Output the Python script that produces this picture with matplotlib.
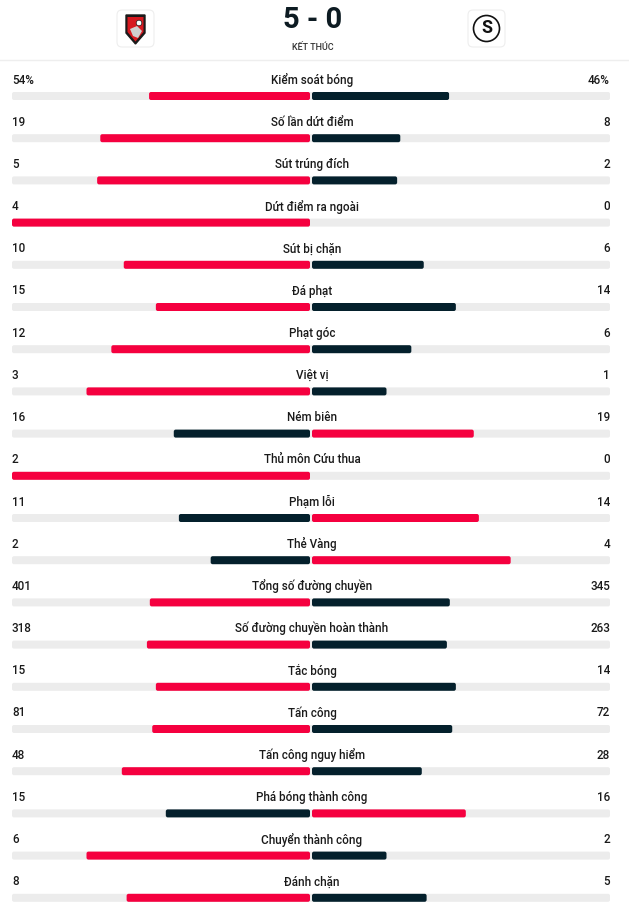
import matplotlib
matplotlib.use('Agg')
import matplotlib.pyplot as plt
from matplotlib.patches import FancyBboxPatch, Polygon, Circle

plt.rcParams['font.family'] = ['Roboto', 'DejaVu Sans']

# Match stats (home = Bournemouth, away = Swansea).
labels = ['Kiểm soát bóng', 'Số lần dứt điểm', 'Sút trúng đích', 'Dứt điểm ra ngoài',
          'Sút bị chặn', 'Đá phạt', 'Phạt góc', 'Việt vị', 'Ném biên',
          'Thủ môn Cứu thua', 'Phạm lỗi', 'Thẻ Vàng', 'Tổng số đường chuyền',
          'Số đường chuyền hoàn thành', 'Tắc bóng', 'Tấn công', 'Tấn công nguy hiểm',
          'Phá bóng thành công', 'Chuyển thành công', 'Đánh chặn']
home = [54, 19, 5, 4, 10, 15, 12, 3, 16, 2, 11, 2, 401, 318, 15, 81, 48, 15, 6, 8]
away = [46, 8, 2, 0, 6, 14, 6, 1, 19, 0, 14, 4, 345, 263, 14, 72, 28, 16, 2, 5]
home_txt = ['54%'] + [str(v) for v in home[1:]]
away_txt = ['46%'] + [str(v) for v in away[1:]]
score = '5 - 0'
status = 'KẾT THÚC'

RED = '#f5003f'
DARK = '#04202c'
TRACK = '#ececec'
TXT = '#1a1a1a'

fig = plt.figure(figsize=(6.29, 9.18), dpi=100)
ax = fig.add_axes([0, 0, 1, 1])
ax.set_xlim(0, 629)
ax.set_ylim(918, 0)
ax.axis('off')

# Header.
ax.text(313, 20, score, ha='center', va='center', fontsize=21, fontweight='bold', color='#0d1b22')
ax.text(313, 47, status, ha='center', va='center', fontsize=6.5, fontweight='medium', color='#333333')
ax.plot([0, 629], [60, 60], color='#eeeeee', lw=1)

for bx in [117, 468]:
    ax.add_patch(FancyBboxPatch((bx, 10), 37, 37, boxstyle='round,pad=0,rounding_size=5',
                                fc='white', ec='#eeeeee', lw=0.8))
# Bournemouth crest (simplified).
ax.add_patch(Polygon([[126, 15], [145, 15], [145, 33], [135.5, 44], [126, 33]], closed=True,
                     fc='#1a1a1a', ec='#1a1a1a'))
ax.add_patch(Polygon([[127.5, 17], [143.5, 17], [143.5, 32], [135.5, 41.5], [127.5, 32]], closed=True,
                     fc='#d71920', ec='none'))
ax.add_patch(Circle((139, 23), 2.8, fc='white', ec='#1a1a1a', lw=0.5))
ax.add_patch(Polygon([[130, 29], [137, 26], [142, 31], [138, 38], [133, 36]], closed=True,
                     fc='#d0d0d0', ec='none'))
# Swansea crest (simplified).
ax.add_patch(Circle((486.5, 28.5), 13, fc='white', ec='#111111', lw=1.2))
ax.text(486.5, 28, 'S', ha='center', va='center', fontsize=13, fontweight='bold', color='#111111')

# Stat rows.
x0, x1 = 12, 610
mid = (x0 + x1) / 2
half = mid - x0
gap = 1
y_first, step = 80, 42.2
for i, lab in enumerate(labels):
    y = y_first + i * step
    yb = y + 12
    ax.text(x0, y, home_txt[i], ha='left', va='center', fontsize=8.4, fontweight='medium', color=TXT)
    ax.text(x1, y, away_txt[i], ha='right', va='center', fontsize=8.4, fontweight='medium', color=TXT)
    ax.text(mid + 1, y, lab, ha='center', va='center', fontsize=8.4, fontweight='medium', color=TXT)
    ax.add_patch(FancyBboxPatch((x0, yb), x1 - x0, 8, boxstyle='round,pad=0,rounding_size=2',
                                fc=TRACK, ec='none'))
    tot = home[i] + away[i]
    hw = home[i] / tot * (half - gap)
    aw = away[i] / tot * (half - gap)
    hc = RED if home[i] > away[i] else DARK
    ac = RED if away[i] > home[i] else DARK
    if hw > 0:
        ax.add_patch(FancyBboxPatch((mid - gap - hw, yb), hw, 8,
                                    boxstyle='round,pad=0,rounding_size=2', fc=hc, ec='none'))
    if aw > 0:
        ax.add_patch(FancyBboxPatch((mid + gap, yb), aw, 8,
                                    boxstyle='round,pad=0,rounding_size=2', fc=ac, ec='none'))

fig.savefig('out.png', dpi=100, facecolor='white')
